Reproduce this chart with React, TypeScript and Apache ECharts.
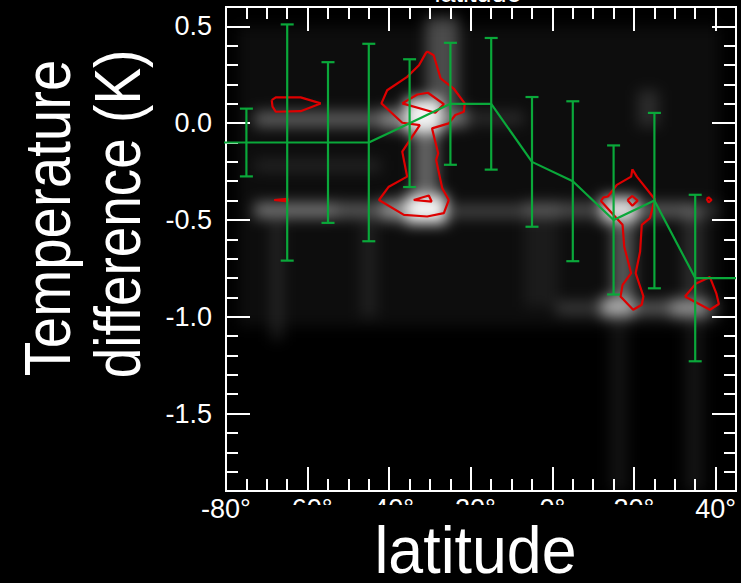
import React, { useEffect, useRef } from "react";
import * as echarts from "echarts";

// Axis extents
const latRange = [-80, 45];
const diffRange = [-1.9, 0.6];
const latMajorStep = 20;
const latMinorStep = 5;
const diffMinorStep = 0.1;

// Zonal-mean temperature difference per 10° latitude bin
const latitudes = [-85, -75, -65, -55, -45, -35, -25, -15, -5, 5, 15, 25, 35, 45];
const meanDiff = [-0.1, -0.1, -0.1, -0.1, -0.1, 0.0, 0.1, 0.1, -0.2, -0.3, -0.5, -0.4, -0.8, -0.8];
const diffSpread: (number | null)[] = [null, 0.175, 0.61, 0.415, 0.51, 0.33, 0.315, 0.34, 0.335, 0.413, 0.385, 0.453, 0.43, null];

// Density contours [latitude, difference]
const contourSouthSmall = [
  [-68.8, 0.119], [-67.8, 0.133], [-61.7, 0.133], [-56.8, 0.102], [-61.7, 0.062],
  [-67.8, 0.059], [-68.6, 0.085], [-68.8, 0.119],
];
const contourSouthSliver = [[-68.2, -0.397], [-64.9, -0.391], [-64.9, -0.404], [-68.2, -0.397]];
const contourMidSouth = [
  [-30.7, 0.371], [-29.1, 0.351], [-27.4, 0.231], [-24.2, 0.179], [-21.5, 0.102], [-21.7, 0.059],
  [-23.8, 0.042], [-25.4, -0.001], [-29.5, -0.027], [-28.0, -0.156], [-28.5, -0.19], [-27.0, -0.336],
  [-25.4, -0.397], [-26.6, -0.465], [-30.7, -0.482], [-36.4, -0.474], [-42.5, -0.397], [-40.1, -0.328],
  [-35.6, -0.276], [-36.8, -0.147], [-32.5, -0.01], [-36.8, 0.002], [-40.1, 0.067], [-41.9, 0.102],
  [-40.5, 0.17], [-35.6, 0.239], [-32.7, 0.299], [-31.1, 0.359], [-30.7, 0.371],
];
const contourMidSouthUpper = [[-36.8, 0.102], [-33.1, 0.148], [-30.5, 0.157], [-26.6, 0.098], [-28.7, 0.054], [-36.8, 0.102]];
const contourMidSouthLower = [[-34.0, -0.397], [-30.3, -0.374], [-29.6, -0.405], [-34.0, -0.397]];
const contourTropicNorth = [
  [19.6, -0.238], [20.7, -0.276], [25.1, -0.393], [23.9, -0.491], [21.9, -0.525], [21.5, -0.663],
  [20.4, -0.775], [22.3, -0.895], [21.9, -0.938], [19.8, -0.964], [16.7, -0.895], [17.2, -0.835],
  [19.3, -0.775], [17.6, -0.637], [17.2, -0.525], [15.0, -0.474], [11.9, -0.402], [12.5, -0.383],
  [13.6, -0.379], [15.8, -0.319], [19.3, -0.276], [19.6, -0.238],
];
const contourTropicNorthCore = [[18.4, -0.397], [19.6, -0.376], [20.9, -0.4], [19.6, -0.427], [18.4, -0.397]];
const contourNorth = [[32.5, -0.895], [35.1, -0.83], [38.6, -0.795], [40.2, -0.881], [40.8, -0.934], [38.6, -0.964], [32.5, -0.895]];
const contourNorthDot = [[37.8, -0.391], [38.3, -0.383], [39.0, -0.397], [38.3, -0.41], [37.8, -0.391]];

const contours = [
  contourSouthSmall, contourSouthSliver, contourMidSouth, contourMidSouthUpper,
  contourMidSouthLower, contourTropicNorth, contourTropicNorthCore, contourNorth, contourNorthDot,
];

// Smoothed sample density: [lat from, lat to, diff low, diff high, level]
const densityPatches = [
  [-77, 41, -1.05, 0.5, 0.05],
  [-73, -42, -0.02, 0.06, 0.33],
  [-42, -36, -0.03, 0.07, 0.5],
  [-36, -27, -0.05, 0.13, 0.95],
  [-27, -21, -0.02, 0.08, 0.42],
  [-21, -7, -0.01, 0.06, 0.12],
  [-73, -53, -0.49, -0.41, 0.42],
  [-53, -42, -0.49, -0.41, 0.3],
  [-42, -36, -0.5, -0.4, 0.55],
  [-36, -26, -0.52, -0.37, 0.95],
  [-26, -7, -0.49, -0.42, 0.22],
  [-7, 2, -0.49, -0.41, 0.32],
  [2, 12, -0.49, -0.41, 0.25],
  [12, 21, -0.51, -0.38, 0.85],
  [21, 36, -0.49, -0.41, 0.3],
  [36, 41, -0.49, -0.41, 0.13],
  [1, 12, -0.99, -0.92, 0.18],
  [12, 20, -1.0, -0.9, 0.65],
  [20, 29, -0.99, -0.92, 0.32],
  [29, 38, -1.0, -0.91, 0.55],
  [38, 41, -0.99, -0.92, 0.18],
  [-34, -28, -0.4, -0.03, 0.35],
  [-31, -23, 0.1, 0.55, 0.26],
  [14.5, 20, -0.9, -0.5, 0.3],
  [21, 26, -0.02, 0.17, 0.13],
  [32, 37, -0.9, -0.45, 0.13],
  [-69, -66, -1.12, -0.5, 0.1],
  [-47, -43, -1.0, -0.5, 0.08],
  [14, 18.5, -1.9, -1.0, 0.07],
  [32.5, 37, -1.9, -1.0, 0.08],
  [-7, 1.5, -0.95, -0.5, 0.06],
  [-73, -42, -0.25, -0.19, 0.1],
];

const FONT = "Liberation Sans";
const GREEN = "#0aa83a";
const RED = "#dd0000";
const WHITE = "#ffffff";

const gridBox = { left: 226, top: 7, width: 510, height: 484 };

function tickAxis(kind: "x" | "y", position: string, major: boolean, withLabels: boolean) {
  const range = kind === "x" ? latRange : diffRange;
  const base: any = {
    type: "value",
    position,
    min: range[0],
    max: range[1],
    axisLine: { show: false, onZero: false },
    splitLine: { show: false },
    axisTick: { show: true, inside: true, length: major ? 24 : 12, lineStyle: { color: WHITE, width: 2 } },
    axisLabel: { show: false },
  };
  if (kind === "x") {
    base.interval = major ? latMajorStep : latMinorStep;
  } else if (major) {
    base.splitNumber = 5;
    base.minInterval = 0.5;
    base.maxInterval = 0.5;
  } else {
    base.interval = diffMinorStep;
  }
  if (withLabels) {
    base.axisLabel = {
      show: true,
      color: WHITE,
      fontFamily: FONT,
      fontSize: 27,
      margin: kind === "x" ? 4 : 14,
      showMinLabel: kind === "x",
      showMaxLabel: false,
      formatter: kind === "x" ? (v: number) => `${v}°` : (v: number) => v.toFixed(1),
    };
  }
  return base;
}

export default function App() {
  const heatRef = useRef<HTMLDivElement>(null);
  const mainRef = useRef<HTMLDivElement>(null);

  useEffect(() => {
    const heat = echarts.init(heatRef.current!, null, { renderer: "svg" });
    heat.setOption({
      animation: false,
      backgroundColor: "#000",
      grid: { ...gridBox, show: false },
      xAxis: { type: "value", min: latRange[0], max: latRange[1], show: false },
      yAxis: { type: "value", min: diffRange[0], max: diffRange[1], show: false },
      series: [
        {
          type: "custom",
          data: densityPatches,
          encode: { x: [0, 1], y: [2, 3] },
          renderItem: (_p: any, api: any) => {
            const a = api.coord([api.value(0), api.value(3)]);
            const b = api.coord([api.value(1), api.value(2)]);
            return {
              type: "rect",
              shape: { x: a[0], y: a[1], width: b[0] - a[0], height: b[1] - a[1] },
              style: { fill: `rgba(255,255,255,${api.value(4)})` },
            };
          },
        },
      ],
    });

    const main = echarts.init(mainRef.current!, null, { renderer: "svg" });
    const barData = latitudes
      .map((lat, i) => (diffSpread[i] == null ? null : [lat, meanDiff[i], diffSpread[i]]))
      .filter((d) => d != null);

    main.setOption({
      animation: false,
      backgroundColor: "transparent",
      textStyle: { fontFamily: FONT },
      grid: { ...gridBox, show: true, borderColor: WHITE, borderWidth: 2, backgroundColor: "transparent" },
      xAxis: [
        tickAxis("x", "bottom", true, true),
        tickAxis("x", "bottom", false, false),
        tickAxis("x", "top", true, false),
        tickAxis("x", "top", false, false),
      ],
      yAxis: [
        tickAxis("y", "left", true, true),
        tickAxis("y", "left", false, false),
        tickAxis("y", "right", true, false),
        tickAxis("y", "right", false, false),
      ],
      series: [
        ...contours.map((c) => ({
          type: "line",
          data: c,
          symbol: "none",
          clip: true,
          z: 3,
          lineStyle: { color: RED, width: 2.2 },
        })),
        {
          type: "line",
          data: latitudes.map((lat, i) => [lat, meanDiff[i]]),
          symbol: "none",
          clip: true,
          z: 4,
          lineStyle: { color: GREEN, width: 2.2 },
        },
        {
          type: "custom",
          data: barData,
          encode: { x: 0, y: 1 },
          z: 4,
          renderItem: (_p: any, api: any) => {
            const x = api.value(0);
            const m = api.value(1);
            const e = api.value(2);
            const top = api.coord([x, m + e]);
            const bot = api.coord([x, m - e]);
            const w = 6.5;
            const style = { stroke: GREEN, lineWidth: 2.2 };
            return {
              type: "group",
              children: [
                { type: "line", shape: { x1: top[0], y1: top[1], x2: bot[0], y2: bot[1] }, style },
                { type: "line", shape: { x1: top[0] - w, y1: top[1], x2: top[0] + w, y2: top[1] }, style },
                { type: "line", shape: { x1: bot[0] - w, y1: bot[1], x2: bot[0] + w, y2: bot[1] }, style },
              ],
            };
          },
        },
      ],
      graphic: [
        {
          type: "rect",
          z: 100,
          shape: { x: 256, y: 505, width: 436, height: 78 },
          style: { fill: "#000" },
        },
        {
          type: "text",
          z: 101,
          x: 475.5,
          y: 550,
          scaleX: 0.95,
          style: {
            text: "latitude", fill: WHITE, fontFamily: FONT, fontSize: 66, lineHeight: 52,
            align: "center", verticalAlign: "middle",
          },
        },
        {
          type: "text",
          z: 101,
          x: 478,
          y: -7.4,
          style: {
            text: "latitude", fill: WHITE, fontFamily: FONT, fontSize: 27,
            align: "center", verticalAlign: "middle",
          },
        },
        {
          type: "text",
          z: 101,
          x: 47.5,
          y: 218,
          rotation: Math.PI / 2,
          scaleX: 0.868,
          style: {
            text: "Temperature", fill: WHITE, fontFamily: FONT, fontSize: 65,
            align: "center", verticalAlign: "middle",
          },
        },
        {
          type: "text",
          z: 101,
          x: 117.5,
          y: 214,
          rotation: Math.PI / 2,
          scaleX: 0.845,
          style: {
            text: "difference (K)", fill: WHITE, fontFamily: FONT, fontSize: 65,
            align: "center", verticalAlign: "middle",
          },
        },
      ],
    });

    return () => {
      heat.dispose();
      main.dispose();
    };
  }, []);

  return (
    <div style={{ position: "fixed", left: 0, top: 0, width: 741, height: 583, background: "#000", overflow: "hidden" }}>
      <div style={{ position: "absolute", left: 227, top: 8, width: 508, height: 482, overflow: "hidden" }}>
        <div
          ref={heatRef}
          style={{ position: "absolute", left: -227, top: -8, width: 741, height: 583, filter: "blur(7px)" }}
        />
      </div>
      <div ref={mainRef} style={{ position: "absolute", left: 0, top: 0, width: 741, height: 583 }} />
    </div>
  );
}
